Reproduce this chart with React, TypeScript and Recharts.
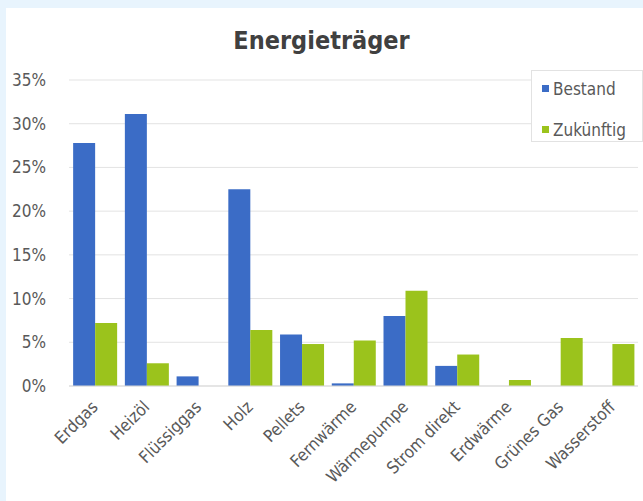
import React from 'react';
import { BarChart, Bar, XAxis, YAxis, CartesianGrid } from 'recharts';

const categories = [
  'Erdgas', 'Heizöl', 'Flüssiggas', 'Holz', 'Pellets', 'Fernwärme',
  'Wärmepumpe', 'Strom direkt', 'Erdwärme', 'Grünes Gas', 'Wasserstoff',
];
const bestand = [27.8, 31.1, 1.1, 22.5, 5.9, 0.3, 8.0, 2.3, 0, 0, 0];
const zukuenftig = [7.2, 2.6, 0, 6.4, 4.8, 5.2, 10.9, 3.6, 0.7, 5.5, 4.8];
const yTicks = [0, 5, 10, 15, 20, 25, 30, 35];

const data = categories.map((name, i) => ({
  name,
  Bestand: bestand[i],
  Zukünftig: zukuenftig[i],
}));

const FONT = '"Liberation Sans Narrow", "DejaVu Sans Condensed", "Open Sans", sans-serif';
const BLUE = '#3b6cc6';
const GREEN = '#9bc31c';

const XTick = (props: any) => {
  const { x, y, payload } = props;
  return (
    <text
      x={x + 4}
      y={y + 14}
      transform={`rotate(-45, ${x + 4}, ${y + 14})`}
      textAnchor="end"
      fill="#595959"
      fontSize={17}
      fontFamily={FONT}
    >
      {payload.value}
    </text>
  );
};

const LegendBox = () => (
  <div
    style={{
      position: 'absolute',
      left: 531,
      top: 70,
      width: 112,
      height: 72,
      border: '1px solid #e2e2e2',
      background: '#fff',
      boxSizing: 'border-box',
      padding: '4px 0 0 10px',
      fontFamily: FONT,
      fontSize: 17,
      color: '#595959',
    }}
  >
    {[['Bestand', BLUE], ['Zukünftig', GREEN]].map(([label, color]) => (
      <div key={label} style={{ display: 'flex', alignItems: 'center', height: 27, marginBottom: 14 }}>
        <span style={{ width: 7, height: 7, background: color, display: 'inline-block', marginRight: 4 }} />
        {label}
      </div>
    ))}
  </div>
);

export default function App() {
  return (
    <div style={{ position: 'fixed', left: 0, top: 0, width: 643, height: 501, background: '#e8f4fd' }}>
      <div style={{ position: 'absolute', left: 6, top: 8, width: 637, height: 493, background: '#ffffff' }} />
      <div
        style={{
          position: 'absolute',
          left: 0,
          top: 26,
          width: 643,
          textAlign: 'center',
          fontFamily: FONT,
          fontWeight: 'bold',
          fontSize: 25,
          color: '#404040',
        }}
      >
        Energieträger
      </div>
      <div style={{ position: 'absolute', left: 0, top: 0 }}>
        <BarChart
          width={643}
          height={501}
          data={data}
          margin={{ top: 80, right: 5, left: 0, bottom: 0 }}
          barCategoryGap="8%"
          barGap={0}
        >
          <CartesianGrid vertical={false} stroke="#e3e3e3" />
          <XAxis
            dataKey="name"
            interval={0}
            height={115}
            tick={<XTick />}
            axisLine={{ stroke: '#d9d9d9' }}
            tickLine={false}
          />
          <YAxis
            width={69}
            domain={[0, 35]}
            ticks={yTicks}
            tickFormatter={(v: number) => `${v}%`}
            axisLine={false}
            tickLine={false}
            tickMargin={17}
            tick={{ fill: '#595959', fontSize: 17, fontFamily: FONT }}
          />
          <Bar dataKey="Bestand" fill={BLUE} isAnimationActive={false} />
          <Bar dataKey="Zukünftig" fill={GREEN} isAnimationActive={false} />
        </BarChart>
      </div>
      <LegendBox />
    </div>
  );
}
